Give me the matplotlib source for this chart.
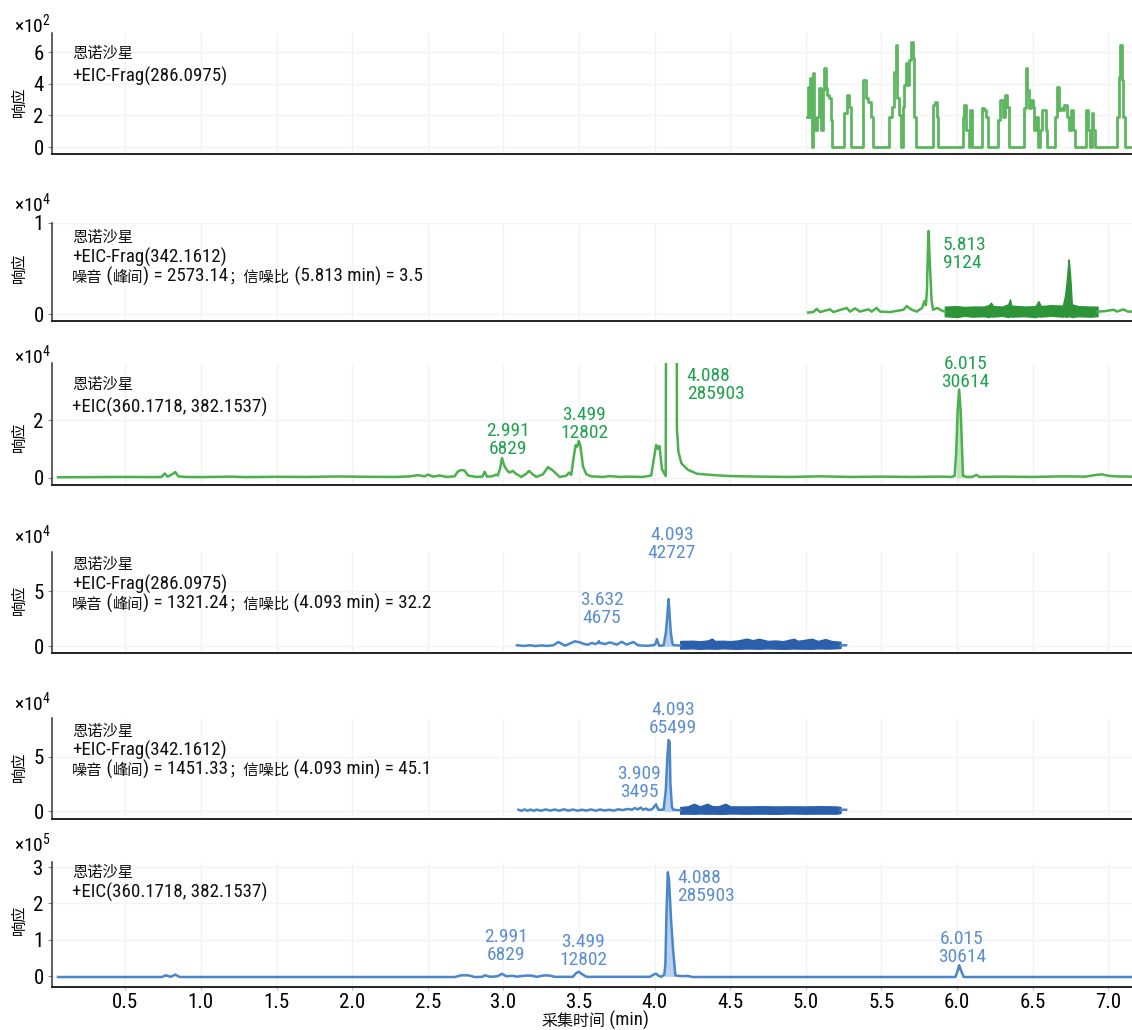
import matplotlib
matplotlib.use("Agg")
import matplotlib.pyplot as plt
from matplotlib import font_manager as fm
from matplotlib.text import Annotation

W, H = 1132, 1030


def pick_narrow():
    # first upright regular condensed / narrow face that is installed
    pref = ["Roboto Condensed", "Liberation Sans Narrow", "DejaVu Sans", "Noto Sans",
            "Open Sans", "Open Sans Condensed"]
    found = {}
    for f in fm.fontManager.ttflist:
        if f.style != "normal" or str(f.weight) not in ("400", "normal", "regular", "book"):
            continue
        if "ondensed" in f.name or "Narrow" in f.name or f.stretch in ("condensed", "semi-condensed"):
            found.setdefault(f.name, f.stretch)
    for p in pref:
        if p in found:
            return p, found[p]
    if found:
        n = sorted(found)[0]
        return n, found[n]
    return "Roboto", "normal"


NARROW, STRETCH = pick_narrow()
CJK = "Noto Sans CJK SC"
plt.rcParams["font.family"] = [NARROW, CJK, "DejaVu Sans"]
plt.rcParams["font.stretch"] = STRETCH
plt.rcParams["mathtext.fontset"] = "custom"
plt.rcParams["mathtext.rm"] = f"{NARROW}:stretch={STRETCH}"
plt.rcParams["mathtext.it"] = f"{NARROW}:stretch={STRETCH}"

GREEN = "#4cb04f"
GREEN_DARK = "#2e9438"
GREEN_TXT = "#1fa24e"
GREEN_FILL = "#bfe3bf"
BLUE = "#4a86c8"
BLUE_DARK = "#2a5fab"
BLUE_TXT = "#5b8fd2"
BLUE_FILL = "#b7d1ef"

# ---- traces: retention time (min) / response (counts) ----
# 1) +EIC-Frag(286.0975), green, step counts
p1_t = [5.011, 5.017, 5.024, 5.028, 5.039, 5.046, 5.055, 5.061, 5.073, 5.090, 5.099,
        5.112, 5.123, 5.132, 5.143, 5.154, 5.165, 5.172,
        5.253, 5.271, 5.289, 5.302,
        5.377, 5.399, 5.414, 5.430, 5.447,
        5.553, 5.569, 5.584, 5.595, 5.606, 5.617, 5.630, 5.641, 5.650, 5.663, 5.674,
        5.685, 5.696, 5.707, 5.716, 5.727,
        5.840, 5.855, 5.866, 5.875,
        6.038, 6.047, 6.060, 6.078, 6.087, 6.098,
        6.164, 6.179, 6.192, 6.208,
        6.274, 6.285, 6.303, 6.318, 6.329, 6.347,
        6.446, 6.457, 6.466, 6.479, 6.490, 6.501, 6.512, 6.523, 6.539,
        6.550, 6.561, 6.576, 6.587, 6.594,
        6.651, 6.660, 6.673, 6.686, 6.700, 6.711, 6.726, 6.739, 6.752, 6.766, 6.779,
        6.854, 6.867, 6.880, 6.891, 6.902, 6.913,
        7.061, 7.070, 7.079, 7.090, 7.101, 7.112, 7.160]
p1_y = [190, 381, 190, 434, 0, 465, 190, 110, 190, 371, 110,
        360, 497, 371, 328, 307, 171, 0,
        213, 328, 255, 0,
        423, 307, 286, 190, 0,
        190, 255, 476, 644, 307, 202, 0, 255, 392, 529, 392,
        550, 665, 560, 190, 0,
        265, 286, 190, 0,
        190, 265, 110, 0, 234, 0,
        244, 234, 190, 0,
        171, 297, 190, 328, 255, 0,
        244, 497, 360, 244, 297, 255, 110, 190, 0,
        110, 234, 234, 110, 0,
        190, 381, 234, 244, 234, 265, 190, 110, 234, 110, 0,
        234, 110, 0, 213, 110, 0,
        190, 444, 644, 423, 190, 0, 0]

# 2) +EIC-Frag(342.1612), green
p2_t = [5.017, 5.050, 5.073, 5.095, 5.161, 5.183, 5.271, 5.293, 5.326, 5.359, 5.414,
        5.436, 5.469, 5.491, 5.558, 5.646, 5.668, 5.701, 5.734, 5.770, 5.785, 5.795,
        5.802, 5.808, 5.813, 5.818, 5.824, 5.832, 5.842, 5.870, 5.900, 5.920]
p2_y = [200, 250, 600, 250, 550, 250, 700, 300, 650, 300, 550,
        300, 700, 300, 250, 500, 900, 500, 300, 700, 1450, 1000,
        2700, 6900, 9124, 6700, 4500, 1600, 500, 700, 400, 300]
p2_band_t = [5.920, 6.000, 6.050, 6.100, 6.180, 6.210, 6.225, 6.240, 6.300, 6.340, 6.351,
             6.360, 6.450, 6.520, 6.539, 6.555, 6.620, 6.700, 6.715, 6.725, 6.735, 6.739,
             6.745, 6.752, 6.760, 6.800, 6.880, 6.930]
p2_band_hi = [840, 900, 800, 850, 850, 1000, 1270, 900, 850, 1100, 1640,
              950, 850, 900, 1450, 900, 1000, 950, 2000, 3450, 5400, 6000,
              5000, 3400, 1100, 900, 850, 840]
p2_band_lo = [-200, -300, -150, -250, -200, -300, -200, -250, -150, -300, -200,
              -250, -200, -300, -200, -250, -150, -250, -200, -300, -200, -200,
              -250, -200, -300, -200, -250, -200]
p2_tail_t = [6.930, 6.980, 7.035, 7.060, 7.101, 7.130, 7.160]
p2_tail_y = [300, 350, 500, 300, 550, 300, 300]

# 3) +EIC(360.1718, 382.1537), green
p3_t = [0.055, 0.300, 0.500, 0.700, 0.740, 0.760, 0.780, 0.810, 0.830, 0.850, 0.900,
        1.000, 1.200, 1.300, 1.500, 1.700, 1.900, 2.100, 2.292, 2.380, 2.436, 2.480,
        2.502, 2.535, 2.579, 2.623, 2.678, 2.700, 2.722, 2.744, 2.766, 2.821, 2.861,
        2.876, 2.892, 2.931, 2.953, 2.964, 2.980, 2.991, 3.006, 3.024, 3.041, 3.063,
        3.081, 3.119, 3.152, 3.170, 3.192, 3.218, 3.262, 3.295, 3.328, 3.372, 3.416,
        3.434, 3.449, 3.465, 3.478, 3.489, 3.499, 3.510, 3.527, 3.549, 3.582, 3.659,
        3.703, 3.769, 3.835, 3.923, 3.978, 4.000, 4.011, 4.022, 4.033, 4.049, 4.074,
        4.086, 4.088, 4.143, 4.148, 4.158, 4.178, 4.220, 4.280, 4.400, 4.500, 4.700,
        4.900, 5.100, 5.300, 5.500, 5.700, 5.900, 5.960, 5.985, 5.995, 6.005, 6.015,
        6.025, 6.032, 6.040, 6.060, 6.100, 6.130, 6.150, 6.300, 6.500, 6.700, 6.850,
        6.920, 6.960, 7.000, 7.050, 7.160]
p3_y = [200, 250, 300, 250, 300, 1500, 400, 1200, 2000, 500, 300,
        250, 400, 250, 350, 300, 450, 350, 300, 500, 900, 500,
        1100, 400, 800, 300, 500, 2200, 2700, 2500, 800, 300, 400,
        2100, 400, 600, 1100, 800, 3500, 6829, 4200, 2600, 1800, 2400,
        1500, 300, 1400, 2400, 1300, 300, 1200, 3700, 2500, 300, 700,
        1800, 1000, 7000, 11300, 10800, 12802, 11000, 3900, 1200, 500, 300,
        600, 300, 400, 300, 800, 8000, 11400, 10000, 11000, 3000, 600,
        285000, 285903, 250000, 17000, 9000, 5000, 2800, 1400, 900, 600, 400,
        300, 500, 300, 400, 300, 400, 300, 600, 8600, 23400, 30614,
        23000, 13000, 800, 300, 300, 1000, 300, 400, 300, 500, 400,
        1000, 1200, 700, 500, 400]

# 4) +EIC-Frag(286.0975), blue
p4_t = [3.090, 3.133, 3.177, 3.210, 3.254, 3.287, 3.331, 3.364, 3.408, 3.441, 3.474,
        3.507, 3.534, 3.562, 3.585, 3.607, 3.625, 3.632, 3.638, 3.673, 3.706, 3.750,
        3.783, 3.816, 3.860, 3.893, 3.948, 3.992, 4.005, 4.016, 4.030, 4.060, 4.075,
        4.085, 4.090, 4.093, 4.100, 4.108, 4.118, 4.125, 4.150, 4.170]
p4_y = [900, 300, 900, 200, 800, 300, 900, 3900, 500, 2500, 4500,
        3500, 2000, 1500, 3000, 2000, 3000, 4675, 3000, 2000, 3500, 1500,
        4000, 1500, 3800, 800, 400, 900, 1800, 6500, 500, 800, 12400,
        28400, 38000, 42727, 28000, 12000, 3000, 1000, 800, 600]
p4_band_t = [4.170, 4.250, 4.300, 4.350, 4.380, 4.400, 4.450, 4.500, 4.550, 4.610, 4.650,
             4.690, 4.750, 4.800, 4.850, 4.920, 4.950, 5.040, 5.080, 5.130, 5.170, 5.230]
p4_band_hi = [4800, 5000, 4500, 5200, 6900, 4800, 5000, 4600, 5200, 6900, 5500,
              6800, 4800, 5200, 4600, 6800, 4900, 6800, 4800, 6500, 4800, 4000]
p4_band_lo = [-2100, -1900, -2300, -2000, -2100, -2200, -1900, -2100, -2300, -2000, -2100,
              -2200, -1900, -2100, -2300, -2000, -2100, -2200, -1900, -2100, -2000, -1500]
p4_tail_t = [5.230, 5.250, 5.267]
p4_tail_y = [600, 900, 900]

# 5) +EIC-Frag(342.1612), blue
p5_t = [3.100, 3.120, 3.140, 3.160, 3.180, 3.200, 3.220, 3.250, 3.280, 3.310, 3.340,
        3.370, 3.400, 3.430, 3.460, 3.490, 3.520, 3.550, 3.580, 3.610, 3.640, 3.670,
        3.700, 3.730, 3.760, 3.790, 3.820, 3.850, 3.870, 3.890, 3.909, 3.925, 3.945,
        3.960, 3.985, 4.010, 4.025, 4.060, 4.075, 4.085, 4.093, 4.100, 4.105, 4.115,
        4.125, 4.150, 4.170]
p5_y = [1500, 500, 1800, 600, 1700, 500, 1600, 600, 1800, 700, 1700,
        600, 1900, 700, 1700, 600, 1500, 700, 1800, 600, 1700, 800,
        1500, 700, 1900, 1200, 2200, 1500, 3000, 1800, 3495, 1500, 2600,
        1200, 2000, 6500, 1500, 1500, 19900, 50500, 65499, 64000, 26000, 4000,
        1500, 1200, 1000]
p5_band_t = [4.170, 4.220, 4.260, 4.300, 4.350, 4.380, 4.420, 4.470, 4.500, 4.600, 4.700,
             4.800, 4.900, 5.000, 5.100, 5.200, 5.230]
p5_band_hi = [4000, 4600, 7000, 4600, 7000, 4800, 4600, 7000, 4600, 4500, 4700,
              4500, 4600, 4500, 4700, 4500, 4000]
p5_band_lo = [-2100, -2000, -2200, -1900, -2100, -2000, -2200, -2100, -1900, -2100, -2000,
              -2200, -1900, -2100, -2000, -2100, -1500]
p5_tail_t = [5.230, 5.250, 5.267]
p5_tail_y = [1200, 1500, 1500]

# 6) +EIC(360.1718, 382.1537), blue
p6_t = [0.055, 0.740, 0.770, 0.800, 0.830, 0.860, 1.200, 1.800, 2.300, 2.680, 2.720,
        2.770, 2.810, 2.860, 2.880, 2.910, 2.960, 2.991, 3.020, 3.060, 3.090, 3.150,
        3.190, 3.220, 3.270, 3.310, 3.340, 3.460, 3.480, 3.499, 3.520, 3.550, 3.970,
        3.995, 4.010, 4.025, 4.045, 4.065, 4.072, 4.079, 4.088, 4.096, 4.109, 4.123,
        4.138, 4.150, 4.180, 4.220, 4.250, 5.990, 6.005, 6.015, 6.028, 6.045, 7.160]
p6_y = [-2000, -2000, 2700, -1500, 4600, -2000, -2000, -2000, -2000, -2000, 2700,
        2700, -2000, -1500, 3000, -1500, 0, 6829, 0, 1500, -1000, 2000,
        1800, -1500, 2500, 2000, -1500, -1500, 8000, 12802, 6000, -1500, -1500,
        5000, 7300, 2000, -1500, 5000, 34800, 172000, 285903, 264000, 158000, 71400,
        3000, 1500, 500, 1000, -2000, -2000, 15000, 30614, 15000, -2000, -2000]

# ---- labelled peaks: (rt, area text, label x, label top y, ha) ----
p2_peaks = [("5.813", "9124", 5.906, 8600, "left")]
p3_peaks = [("2.991", "6829", 3.031, 19500, "center"),
            ("3.499", "12802", 3.534, 25000, "center"),
            ("4.088", "285903", 4.213, 38300, "left"),
            ("6.015", "30614", 6.058, 42600, "center")]
p4_peaks = [("3.632", "4675", 3.651, 50000, "center"),
            ("4.093", "42727", 4.114, 108500, "center")]
p5_peaks = [("3.909", "3495", 3.900, 43000, "center"),
            ("4.093", "65499", 4.124, 101500, "center")]
p6_peaks = [("2.991", "6829", 3.018, 134000, "center"),
            ("3.499", "12802", 3.527, 120000, "center"),
            ("4.088", "285903", 4.151, 296000, "left"),
            ("6.015", "30614", 6.032, 128500, "center")]

x_ticks = [0.5, 1.0, 1.5, 2.0, 2.5, 3.0, 3.5, 4.0, 4.5, 5.0, 5.5, 6.0, 6.5, 7.0]

# panel frames in pixels (top, bottom) and y scaling
panels = [
    dict(top=33, bot=154, ylim=(-44, 720), yticks=[0, 200, 400, 600], ylab=["0", "2", "4", "6"],
         exp="2", exp_y=24, resp_y=102,
         lines=[(39, "恩诺沙星"), (63, "+EIC-Frag(286.0975)")]),
    dict(top=223, bot=321, ylim=(-730, 10000), yticks=[0, 10000], ylab=["0", "1"],
         exp="4", exp_y=203, resp_y=268,
         lines=[(223, "恩诺沙星"), (244, "+EIC-Frag(342.1612)"),
                (263, "噪音 (峰间) = 2573.14；信噪比 (5.813 min) = 3.5")]),
    dict(top=363, bot=485, ylim=(-2500, 39800), yticks=[0, 20000], ylab=["0", "2"],
         exp="4", exp_y=355, resp_y=437,
         lines=[(370, "恩诺沙星"), (394, "+EIC(360.1718, 382.1537)")]),
    dict(top=552, bot=653, ylim=(-6100, 85300), yticks=[0, 50000], ylab=["0", "5"],
         exp="4", exp_y=535, resp_y=600,
         lines=[(550, "恩诺沙星"), (571, "+EIC-Frag(286.0975)"),
                (590, "噪音 (峰间) = 1321.24；信噪比 (4.093 min) = 32.2")]),
    dict(top=718, bot=819, ylim=(-7000, 85700), yticks=[0, 50000], ylab=["0", "5"],
         exp="4", exp_y=702, resp_y=767,
         lines=[(717, "恩诺沙星"), (737, "+EIC-Frag(342.1612)"),
                (756, "噪音 (峰间) = 1451.33；信噪比 (4.093 min) = 45.1")]),
    dict(top=862, bot=987, ylim=(-29400, 314000), yticks=[0, 100000, 200000, 300000],
         ylab=["0", "1", "2", "3"], exp="5", exp_y=843, resp_y=920,
         lines=[(858, "恩诺沙星"), (879, "+EIC(360.1718, 382.1537)")]),
]

LATIN_PT = 13.7
CJK_PT = 11


def split_runs(s):
    out = []
    for ch in s:
        is_cjk = ord(ch) >= 0x2E80
        if out and out[-1][1] == is_cjk:
            out[-1][0] += ch
        else:
            out.append([ch, is_cjk])
    return out


def mixed_text(fig, x, y, s, ha="left", latin_pt=LATIN_PT, cjk_pt=CJK_PT):
    # CJK runs and Latin runs at their own sizes, chained left to right
    parts = []
    prev = None
    for chunk, is_cjk in split_runs(s):
        kw = dict(fontsize=cjk_pt if is_cjk else latin_pt,
                  family=[CJK] if is_cjk else [NARROW, CJK], color="#111111")
        if prev is None:
            prev = fig.text(x, y, chunk, ha="left", va="baseline", **kw)
        else:
            prev = fig.add_artist(Annotation(chunk, xy=(1, 0), xycoords=prev, xytext=(0, 0),
                                             textcoords="offset points", ha="left",
                                             va="bottom", **kw))
        parts.append(prev)
    if ha == "center":
        r = fig.canvas.get_renderer()
        x0 = parts[0].get_window_extent(r).x0
        x1 = parts[-1].get_window_extent(r).x1
        parts[0].set_x(x - (x1 - x0) / 2 / fig.bbox.width)
    return parts


fig = plt.figure(figsize=(W / 100, H / 100), dpi=100)
left_px = 52
axes = []
for p in panels:
    ax = fig.add_axes([left_px / W, 1 - p["bot"] / H, 1 - left_px / W, (p["bot"] - p["top"]) / H])
    ax.set_xlim(0.015, 7.158)
    ax.set_ylim(*p["ylim"])
    ax.set_yticks(p["yticks"])
    ax.set_yticklabels(p["ylab"], fontsize=15)
    ax.set_xticks(x_ticks)
    ax.grid(True, color="#f3f3f3", lw=1.0)
    ax.set_axisbelow(True)
    for s in ("top", "right"):
        ax.spines[s].set_visible(False)
    ax.spines["bottom"].set_color("#222222")
    ax.spines["bottom"].set_linewidth(1.4)
    ax.spines["left"].set_color("#333333")
    ax.spines["left"].set_linewidth(1.1)
    ax.tick_params(axis="y", length=3, width=0.8, color="#888888", pad=3)
    ax.tick_params(axis="x", length=0, labelbottom=False)
    fig.text((left_px - 1) / W, 1 - p["exp_y"] / H, r"$\times10^{%s}$" % p["exp"],
             ha="right", va="center", fontsize=14)
    fig.text(19 / W, 1 - p["resp_y"] / H, "响应", rotation=90, ha="center", va="center",
             fontsize=11, family=[CJK])
    for y_px, s in p["lines"]:
        mixed_text(fig, 72 / W, 1 - (y_px + 19) / H, s)
    axes.append(ax)

ax1, ax2, ax3, ax4, ax5, ax6 = axes

ax1.plot(p1_t, p1_y, color=GREEN, lw=2.0, drawstyle="steps-post", alpha=0.9)

ax2.plot(p2_t, p2_y, color=GREEN, lw=1.8)
ax2.fill_between(p2_band_t, p2_band_lo, p2_band_hi, color=GREEN_DARK, lw=1.0, edgecolor=GREEN_DARK)
ax2.plot(p2_tail_t, p2_tail_y, color=GREEN, lw=1.8)

ax3.fill_between(p3_t[96:104], 0, p3_y[96:104], color=GREEN_FILL, lw=0)
ax3.plot(p3_t, p3_y, color=GREEN, lw=1.8)

ax4.fill_between(p4_t[31:40], 0, p4_y[31:40], color=BLUE_FILL, lw=0)
ax4.plot(p4_t, p4_y, color=BLUE, lw=1.8)
ax4.fill_between(p4_band_t, p4_band_lo, p4_band_hi, color=BLUE_DARK, lw=1.0, edgecolor=BLUE_DARK)
ax4.plot(p4_tail_t, p4_tail_y, color=BLUE, lw=1.8)

ax5.fill_between(p5_t[37:45], 0, p5_y[37:45], color=BLUE_FILL, lw=0)
ax5.plot(p5_t, p5_y, color=BLUE, lw=1.8)
ax5.fill_between(p5_band_t, p5_band_lo, p5_band_hi, color=BLUE_DARK, lw=1.0, edgecolor=BLUE_DARK)
ax5.plot(p5_tail_t, p5_tail_y, color=BLUE, lw=1.8)

ax6.fill_between(p6_t[37:45], 0, p6_y[37:45], color=BLUE_FILL, lw=0)
ax6.plot(p6_t, p6_y, color=BLUE, lw=1.8)

for ax, peaks, col in [(ax2, p2_peaks, GREEN_TXT), (ax3, p3_peaks, GREEN_TXT),
                       (ax4, p4_peaks, BLUE_TXT), (ax5, p5_peaks, BLUE_TXT),
                       (ax6, p6_peaks, BLUE_TXT)]:
    for rt, area, lx, ly, ha in peaks:
        ax.text(lx, ly, f"{rt}\n{area}", ha=ha, va="top", color=col, fontsize=14,
                linespacing=1.0, clip_on=False)

ax6.tick_params(axis="x", labelbottom=True, labelsize=15, length=2, color="#bbbbbb", pad=2)
ax6.set_xticklabels([f"{v:.1f}" for v in x_ticks])
mixed_text(fig, 595 / W, 1 - 1026 / H, "采集时间 (min)", ha="center", latin_pt=13.5, cjk_pt=11.5)

fig.savefig("out.png", dpi=100)
